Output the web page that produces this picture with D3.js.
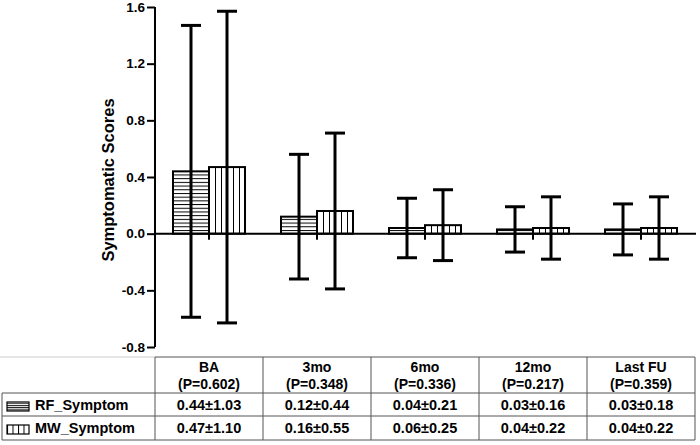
<!DOCTYPE html>
<html>
<head>
<meta charset="utf-8">
<script src="https://cdn.jsdelivr.net/npm/d3@7"></script>
<style>
  html, body { margin: 0; padding: 0; background: #fff; }
  svg { display: block; font-family: "Liberation Sans", Arial, sans-serif; font-weight: bold; }
</style>
</head>
<body>
<svg id="chart" width="700" height="445"></svg>
<script>
const categories = ["BA", "3mo", "6mo", "12mo", "Last FU"];
const pValues = ["0.602", "0.348", "0.336", "0.217", "0.359"];
const rfMean = [0.44, 0.12, 0.04, 0.03, 0.03];
const rfSD = [1.03, 0.44, 0.21, 0.16, 0.18];
const mwMean = [0.47, 0.16, 0.06, 0.04, 0.04];
const mwSD = [1.10, 0.55, 0.25, 0.22, 0.22];
const seriesNames = ["RF_Symptom", "MW_Symptom"];
const yTicks = [-0.8, -0.4, 0.0, 0.4, 0.8, 1.2, 1.6];

const svg = d3.select("#chart");
const x0 = d3.scaleBand().domain(categories).range([155, 695]).paddingInner(1/3).paddingOuter(1/6);
const x1 = d3.scaleBand().domain(seriesNames).range([0, x0.bandwidth()]);
const y = d3.scaleLinear().domain([-0.8, 1.6]).range([347, 7]);
const fmt = d => d.toFixed(1);

const defs = svg.append("defs");
// horizontal hatch
const ph = defs.append("pattern").attr("id", "hatchH").attr("patternUnits", "userSpaceOnUse")
  .attr("width", 10).attr("height", 3.7).attr("y", y(0));
ph.append("rect").attr("width", 10).attr("height", 3.7).attr("fill", "#fff");
ph.append("line").attr("x1", 0).attr("x2", 10).attr("y1", 0.5).attr("y2", 0.5).attr("stroke", "#000").attr("stroke-width", 1);
// vertical hatch
const pv = defs.append("pattern").attr("id", "hatchV").attr("patternUnits", "userSpaceOnUse")
  .attr("width", 6).attr("height", 10).attr("x", x0(categories[0]) + x1.bandwidth());
pv.append("rect").attr("width", 6).attr("height", 10).attr("fill", "#fff");
pv.append("line").attr("x1", 0.5).attr("x2", 0.5).attr("y1", 0).attr("y2", 10).attr("stroke", "#000").attr("stroke-width", 1);
// legend swatches patterns
const lh = defs.append("pattern").attr("id", "legH").attr("patternUnits", "userSpaceOnUse")
  .attr("width", 10).attr("height", 2.2).attr("y", 405);
lh.append("rect").attr("width", 10).attr("height", 2.2).attr("fill", "#fff");
lh.append("line").attr("x1", 0).attr("x2", 10).attr("y1", 0.5).attr("y2", 0.5).attr("stroke", "#000").attr("stroke-width", 0.9);
const lv = defs.append("pattern").attr("id", "legV").attr("patternUnits", "userSpaceOnUse")
  .attr("width", 5.5).attr("height", 10).attr("x", 7);
lv.append("rect").attr("width", 5.5).attr("height", 10).attr("fill", "#fff");
lv.append("line").attr("x1", 0.5).attr("x2", 0.5).attr("y1", 0).attr("y2", 10).attr("stroke", "#000").attr("stroke-width", 1);

const series = [
  { name: seriesNames[0], mean: rfMean, sd: rfSD, fill: "url(#hatchH)" },
  { name: seriesNames[1], mean: mwMean, sd: mwSD, fill: "url(#hatchV)" }
];

// Bars
series.forEach(s => {
  svg.append("g").selectAll("rect").data(categories).join("rect")
    .attr("x", c => x0(c) + x1(s.name))
    .attr("width", x1.bandwidth())
    .attr("y", (c, i) => y(Math.max(0, s.mean[i])))
    .attr("height", (c, i) => Math.abs(y(s.mean[i]) - y(0)))
    .attr("fill", s.fill)
    .attr("stroke", "#000").attr("stroke-width", 2);
});

// Zero axis line with ticks at group centers
const xAxis = d3.axisBottom(x0).tickSize(6).tickFormat("");
const gx = svg.append("g").attr("transform", `translate(0,${y(0)})`).call(xAxis);
gx.select(".domain").attr("d", `M155,0H696`).attr("stroke", "#000").attr("stroke-width", 2);
gx.selectAll(".tick line").attr("stroke", "#000").attr("stroke-width", 2);

// Error bars
series.forEach(s => {
  const g = svg.append("g");
  categories.forEach((c, i) => {
    const cx = x0(c) + x1(s.name) + x1.bandwidth() / 2;
    const top = y(s.mean[i] + s.sd[i]);
    const bot = y(s.mean[i] - s.sd[i]);
    g.append("line").attr("x1", cx).attr("x2", cx).attr("y1", top).attr("y2", bot)
      .attr("stroke", "#000").attr("stroke-width", 3);
    [top, bot].forEach(yy => {
      g.append("line").attr("x1", cx - 10).attr("x2", cx + 10).attr("y1", yy).attr("y2", yy)
        .attr("stroke", "#000").attr("stroke-width", 3);
    });
  });
});

// Y axis
const yAxis = d3.axisLeft(y).tickValues(yTicks).tickFormat(fmt).tickSize(8).tickPadding(2);
const gy = svg.append("g").attr("transform", "translate(155,0)").call(yAxis);
gy.select(".domain").attr("d", `M0,${y(1.6)}V${y(-0.8)}`).attr("stroke", "#000").attr("stroke-width", 2);
gy.selectAll(".tick line").attr("stroke", "#000").attr("stroke-width", 2);
gy.selectAll(".tick text").attr("fill", "#000").style("font-size", "13.5px").style("font-weight", "bold")
  .style("font-family", '"Liberation Sans", Arial, sans-serif');

svg.append("text").attr("transform", "translate(114,180) rotate(-90)")
  .attr("text-anchor", "middle").attr("fill", "#000").style("font-size", "16.5px").text("Symptomatic Scores");

// Table
const rowY = [357, 393, 416, 440];
const colX = [2, 155].concat(categories.map(c => x0(c) + x0.bandwidth() + x0.step() * x0.paddingInner() / 2));
const tbl = svg.append("g");
const border = "#555";
// top border over first column (light)
tbl.append("line").attr("x1", 0).attr("x2", 155).attr("y1", rowY[0]).attr("y2", rowY[0]).attr("stroke", "#ccc").attr("stroke-width", 1);
tbl.append("line").attr("x1", 155).attr("x2", 695).attr("y1", rowY[0]).attr("y2", rowY[0]).attr("stroke", border).attr("stroke-width", 1);
[1, 2, 3].forEach(r => {
  tbl.append("line").attr("x1", 2).attr("x2", 695).attr("y1", rowY[r]).attr("y2", rowY[r]).attr("stroke", border).attr("stroke-width", 1);
});
// vertical lines
tbl.append("line").attr("x1", 2).attr("x2", 2).attr("y1", rowY[1]).attr("y2", rowY[3]).attr("stroke", border).attr("stroke-width", 1);
colX.slice(1).forEach(xx => {
  tbl.append("line").attr("x1", xx).attr("x2", xx).attr("y1", rowY[0]).attr("y2", rowY[3]).attr("stroke", border).attr("stroke-width", 1);
});

// Header text
categories.forEach((c, i) => {
  const cx = x0(c) + x0.bandwidth() / 2;
  const t = tbl.append("text").attr("text-anchor", "middle").style("font-size", "14px").attr("fill", "#000");
  t.append("tspan").attr("x", cx).attr("y", 372).text(c);
  t.append("tspan").attr("x", cx).attr("y", 389).text(`(P=${pValues[i]})`);
});

// Rows
series.forEach((s, r) => {
  const base = rowY[r + 1] + 17;
  const sy = rowY[r + 1] + 12;
  tbl.append("rect").attr("x", 7).attr("y", sy - 3).attr("width", 22).attr("height", 9)
    .attr("fill", r === 0 ? "url(#legH)" : "url(#legV)").attr("stroke", "#000").attr("stroke-width", 1.2);
  tbl.append("text").attr("x", 35).attr("y", base).attr("fill", "#000").style("font-size", "14.5px").text(s.name);
  categories.forEach((c, i) => {
    const cx = x0(c) + x0.bandwidth() / 2;
    tbl.append("text").attr("x", cx).attr("y", base).attr("text-anchor", "middle").attr("fill", "#000").style("font-size", "14.5px")
      .text(`${s.mean[i].toFixed(2)}±${s.sd[i].toFixed(2)}`);
  });
});
</script>
</body>
</html>
